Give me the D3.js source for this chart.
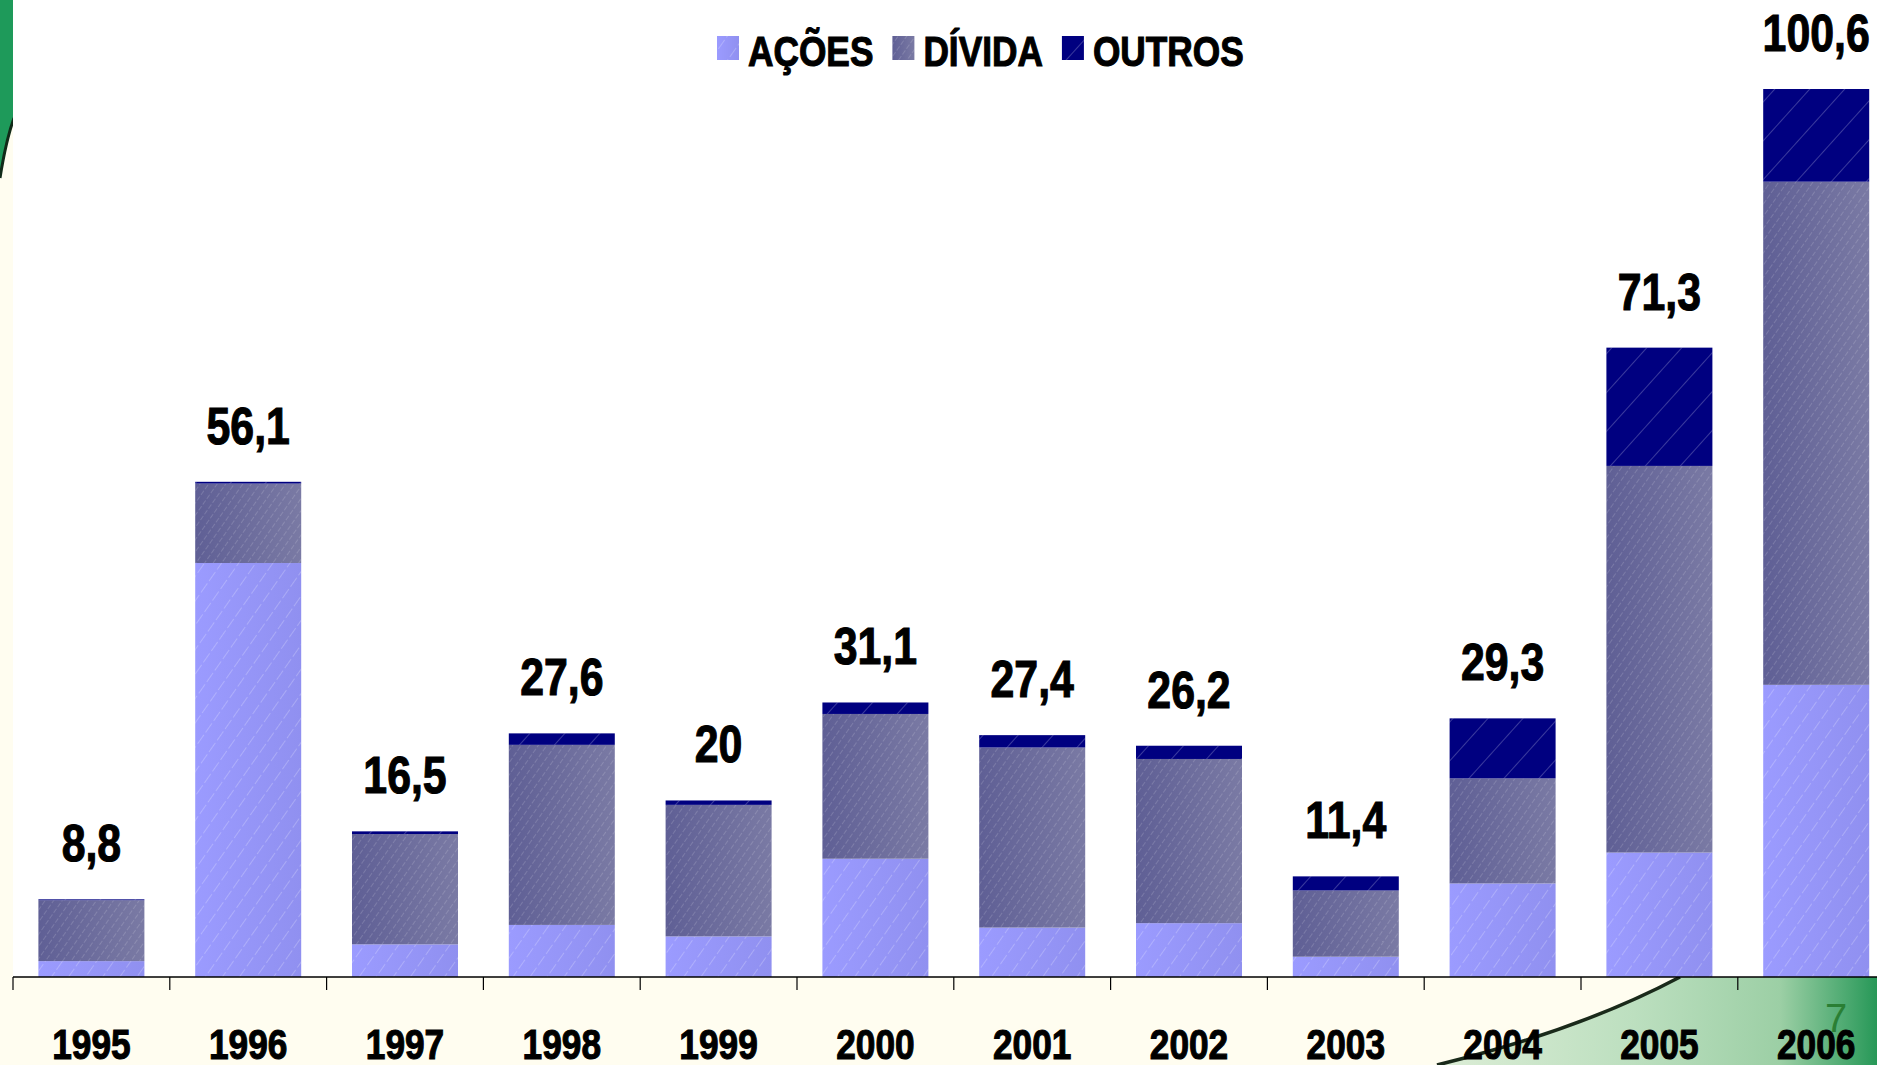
<!DOCTYPE html>
<html>
<head>
<meta charset="utf-8">
<script src="https://cdn.jsdelivr.net/npm/d3@7"></script>
<style>
  html, body { margin: 0; padding: 0; background: #fffdf0; }
  svg { display: block; }
  text { font-family: "Liberation Sans", Arial, sans-serif; }
  .heavy { stroke: #000; stroke-width: 1.1px; paint-order: stroke; }
</style>
</head>
<body>
<svg id="chart" width="1877" height="1065"></svg>
<script>
// ---- data ----
const years = ["1995","1996","1997","1998","1999","2000","2001","2002","2003","2004","2005","2006"];
const acoes  = [1.8, 46.9, 3.7, 5.9, 4.6, 13.4, 5.6, 6.1, 2.3, 10.6, 14.1, 33.1];
const divida = [6.9, 9.0, 12.5, 20.4, 14.9, 16.4, 20.4, 18.6, 7.5, 11.9, 43.8, 57.0];
const outros = [0.1, 0.2, 0.3, 1.3, 0.5, 1.3, 1.4, 1.5, 1.6, 6.8, 13.4, 10.5];
const totalLabels = ["8,8","56,1","16,5","27,6","20","31,1","27,4","26,2","11,4","29,3","71,3","100,6"];
const seriesKeys = ["acoes","divida","outros"];
const seriesNames = ["AÇÕES","DÍVIDA","OUTROS"];
const seriesColors = ["#9999ff","#666699","#000080"];

// ---- layout ----
const W = 1877, H = 1065;
const axisY = 977, left = 13, step = 156.8;
const svg = d3.select("#chart");

const table = years.map((y, i) => ({year: y, acoes: acoes[i], divida: divida[i], outros: outros[i]}));

const x = d3.scaleBand().domain(years)
  .range([left, left + step * years.length])
  .paddingInner(0.324).paddingOuter(0.162);
const y = d3.scaleLinear().domain([0, 110]).range([axisY, axisY - 110 * 8.827]);

// ---- defs ----
const defs = svg.append("defs");
const gDiv = defs.append("linearGradient").attr("id","gradDiv").attr("x1","0").attr("x2","1").attr("y1","0").attr("y2","0");
gDiv.append("stop").attr("offset","0").attr("stop-color","#5f5f95");
gDiv.append("stop").attr("offset","1").attr("stop-color","#7a7aa4");
const gAc = defs.append("linearGradient").attr("id","gradAc").attr("x1","0").attr("x2","1").attr("y1","0").attr("y2","0");
gAc.append("stop").attr("offset","0").attr("stop-color","#9b9bff");
gAc.append("stop").attr("offset","1").attr("stop-color","#9090f0");
const fills = {acoes: "url(#gradAc)", divida: "url(#gradDiv)", outros: seriesColors[2]};

function hatch(id, size, angle, opacity, dash) {
  const p = defs.append("pattern").attr("id", id).attr("patternUnits","userSpaceOnUse")
    .attr("width", size).attr("height", size).attr("patternTransform", `rotate(${angle})`);
  p.append("line").attr("x1", 0).attr("y1", 0).attr("x2", 0).attr("y2", size)
    .attr("stroke", "#ffffff").attr("stroke-width", 1).attr("stroke-opacity", opacity)
    .attr("stroke-dasharray", dash);
}
hatch("hAc", 14, 35, 0.45, "6,3");
hatch("hDiv", 7, 35, 0.3, "3,2");
hatch("hOut", 26, 42, 0.45, "none");
const hatches = {acoes: "url(#hAc)", divida: "url(#hDiv)", outros: "url(#hOut)"};

// ---- background ----
svg.append("rect").attr("x",0).attr("y",0).attr("width",W).attr("height",H).attr("fill","#fffdf0");
// bottom-right green swoosh
const gSw = defs.append("linearGradient").attr("id","gradSw").attr("x1","0").attr("x2","1").attr("y1","0").attr("y2","0");
gSw.append("stop").attr("offset","0").attr("stop-color","#dcedd6");
gSw.append("stop").attr("offset","0.45").attr("stop-color","#bcdfbf");
gSw.append("stop").attr("offset","0.78").attr("stop-color","#9ccfa5");
gSw.append("stop").attr("offset","1").attr("stop-color","#279858");
svg.append("path").attr("d","M1437,1065 Q1580,1030 1680,977 L1877,977 L1877,1065 Z").attr("fill","url(#gradSw)");
svg.append("path").attr("d","M1437,1065 Q1580,1030 1680,977").attr("fill","none").attr("stroke","#1a2a1a").attr("stroke-width",3.5);
// left strip
svg.append("path").attr("d","M0,0 L14,0 L14,120 Q6,140 0,175 Z").attr("fill","#1e9a5a");
svg.append("path").attr("d","M14,118 Q6,140 0,178").attr("fill","none").attr("stroke","#112a18").attr("stroke-width",3);
// white plot area
svg.append("rect").attr("x",left).attr("y",0).attr("width",W-left).attr("height",axisY).attr("fill","#ffffff");

// ---- bars ----
const stacked = d3.stack().keys(seriesKeys)(table);
const gBars = svg.append("g");
stacked.forEach(layer => {
  const key = layer.key;
  const g = gBars.append("g");
  g.selectAll("rect.base").data(layer).join("rect")
    .attr("x", d => x(d.data.year)).attr("width", x.bandwidth())
    .attr("y", d => y(d[1])).attr("height", d => y(d[0]) - y(d[1]))
    .attr("fill", fills[key]);
  g.selectAll("rect.hatch").data(layer).join("rect")
    .attr("x", d => x(d.data.year)).attr("width", x.bandwidth())
    .attr("y", d => y(d[1])).attr("height", d => y(d[0]) - y(d[1]))
    .attr("fill", hatches[key]);
});

// ---- total labels ----
const totals = table.map(d => d.acoes + d.divida + d.outros);
svg.append("g").selectAll("text").data(years).join("text").attr("class","heavy")
  .attr("transform", (d, i) => `translate(${x(d) + x.bandwidth()/2},${y(totals[i]) - 38}) scale(0.84,1)`)
  .attr("text-anchor","middle").attr("font-weight","bold").attr("font-size", 51).attr("fill","#000")
  .text((d, i) => totalLabels[i]);

// ---- axis ----
const axis = d3.axisBottom(x).tickSize(0).tickPadding(0);
const gAx = svg.append("g").attr("transform", `translate(0,${axisY})`).call(axis);
gAx.select(".domain").remove();
gAx.selectAll(".tick text").remove();
gAx.append("line").attr("x1", left).attr("x2", W).attr("y1", 0).attr("y2", 0).attr("stroke","#000").attr("stroke-width",1.5);
const bounds = years.map(d => x(d) - (x.step() - x.bandwidth()) / 2).concat([x(years[years.length-1]) + x.bandwidth() + (x.step()-x.bandwidth())/2]);
gAx.selectAll("line.tk").data(bounds).join("line").attr("class","tk")
  .attr("x1", d => d).attr("x2", d => d).attr("y1", 0).attr("y2", 13)
  .attr("stroke","#000").attr("stroke-width",1.2);
gAx.selectAll("text.yr").data(years).join("text").attr("class","yr heavy")
  .attr("transform", d => `translate(${x(d) + x.bandwidth()/2},82) scale(0.84,1)`)
  .attr("text-anchor","middle").attr("font-weight","bold").attr("font-size", 42).attr("fill","#000")
  .text(d => d);

// ---- legend ----
const lg = svg.append("g");
let lx = 717;
seriesKeys.forEach((k, i) => {
  lg.append("rect").attr("x", lx).attr("y", 36).attr("width", 22).attr("height", 24).attr("fill", fills[k]);
  lg.append("rect").attr("x", lx).attr("y", 36).attr("width", 22).attr("height", 24).attr("fill", hatches[k]);
  const t = lg.append("text").attr("class","heavy").attr("transform", `translate(${lx + 31},66) scale(0.84,1)`)
    .attr("font-weight","bold").attr("font-size", 42).attr("fill","#000").text(seriesNames[i]);
  const w = t.node().getComputedTextLength() * 0.84;
  lx += 31 + w + 19;
});

// page number
svg.append("text").attr("x", 1836).attr("y", 1032).attr("text-anchor","middle")
  .attr("font-size", 40).attr("fill","#2a7f34").text("7");
</script>
</body>
</html>
